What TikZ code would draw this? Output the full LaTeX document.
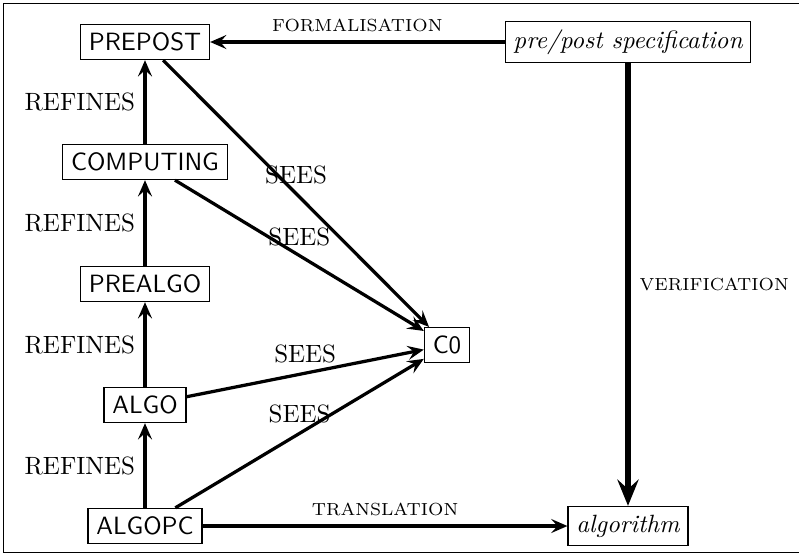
\documentclass[tikz,border=0pt]{standalone}
\usetikzlibrary{arrows.meta}
\begin{document}
\begin{tikzpicture}[x=0.4pt,y=-0.4pt,
  box/.style={draw, line width=0.5pt, font=\sffamily, inner sep=3.33pt},
  ibox/.style={draw, line width=0.5pt, font=\itshape, inner sep=3.33pt},
  arr/.style={line width=1.3pt, -{Stealth[length=6.5pt,width=5.6pt,inset=2.5pt]}},
  bigarr/.style={line width=2.7pt, -{Stealth[length=10.5pt,width=8.5pt,inset=3.8pt]}},
  lab/.style={font=\normalsize},
  slab/.style={font=\scriptsize}]
\useasboundingbox (0,0) rectangle (799,555);
\draw[line width=0.6pt] (3.3,3.3) rectangle (810,552.7);

\node[box] (prepost) at (145,42) {PREPOST};
\node[box] (computing) at (145,162) {COMPUTING};
\node[box] (prealgo) at (145,284) {PREALGO};
\node[box] (algo) at (145,405) {ALGO};
\node[box] (algopc) at (145,526) {ALGOPC};
\node[box] (c0) at (447,345) {C0};
\node[ibox] (spec) at (628,42) {pre/post specification};
\node[ibox] (alg) at (628,526) {algorithm};

\draw[arr] (computing) -- node[lab,left] {REFINES} (prepost);
\draw[arr] (prealgo) -- node[lab,left] {REFINES} (computing);
\draw[arr] (algo) -- node[lab,left] {REFINES} (prealgo);
\draw[arr] (algopc) -- node[lab,left] {REFINES} (algo);

\draw[arr] (prepost) -- node[lab,above] {SEES} (c0);
\draw[arr] (computing) -- node[lab,above] {SEES} (c0);
\draw[arr] (algo) -- node[lab,above] {SEES} (c0);
\draw[arr] (algopc) -- node[lab,above] {SEES} (c0);

\draw[arr] (spec) -- node[slab,above] {FORMALISATION} (prepost);
\draw[bigarr] (spec) -- node[slab,right] {VERIFICATION} (alg);
\draw[arr] (algopc) -- node[slab,above] {TRANSLATION} (alg);
\end{tikzpicture}
\end{document}
